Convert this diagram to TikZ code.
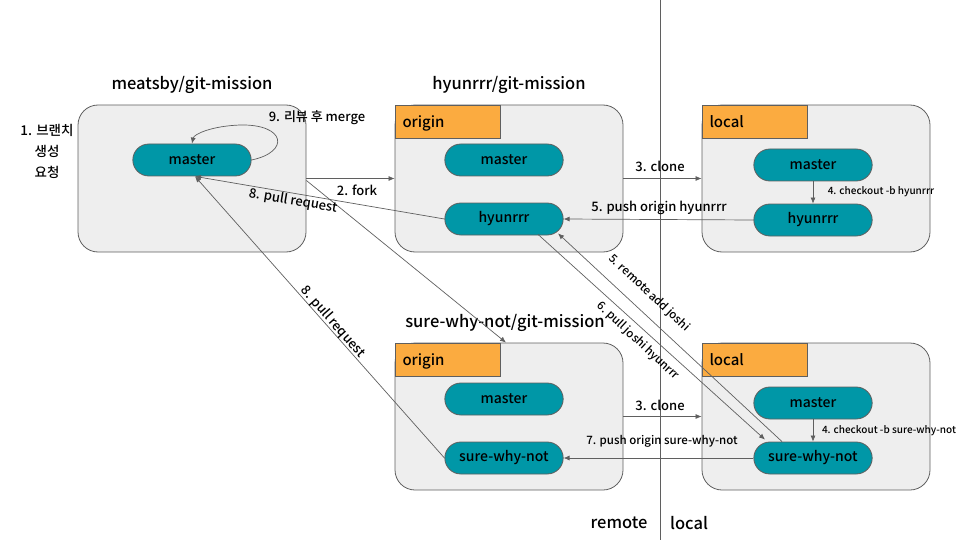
\documentclass[tikz,border=0pt]{standalone}
\usepackage{fontspec}
\setmainfont{Noto Sans CJK KR}[UprightFont=* Medium]
\usetikzlibrary{calc,arrows.meta,shapes.misc}
\definecolor{boxgray}{HTML}{EEEEEE}
\definecolor{linegray}{HTML}{5F5F5F}
\definecolor{tabor}{HTML}{FBAB40}
\definecolor{pillteal}{HTML}{0097A7}
\tikzset{
  repo/.style={draw=linegray,fill=boxgray,line width=0.8pt,rounded corners=20pt,minimum width=228pt,minimum height=147pt},
  tab/.style={draw=linegray,fill=tabor,line width=0.8pt,minimum width=105pt,minimum height=33pt,anchor=north west,font=\fontsize{15}{17}\selectfont,text depth=0pt,align=left,text width=90pt},
  branch/.style={draw=linegray,fill=pillteal,line width=0.8pt,rounded rectangle,minimum width=125pt,minimum height=32pt,font=\fontsize{14}{16}\selectfont},
  title/.style={font=\fontsize{16.5}{18}\selectfont},
  lbl/.style={font=\fontsize{13}{15}\selectfont},
  small/.style={font=\fontsize{10}{12}\selectfont},
  slant/.style={font=\fontsize{11.5}{13}\selectfont},
  stream/.style={draw=linegray,line width=0.7pt,-{Latex[length=6pt,width=5pt]}}
}
\begin{document}
\begin{tikzpicture}[x=1pt,y=-1pt]
      \useasboundingbox (0,0) rectangle (960,540);

      % divider remote / local
      \draw[linegray,line width=0.8pt] (660,0) -- (660,540);
      \node[title] (remote) at (619,523) {remote};
      \node[title] (local) at (689,523) {local};

      % repositories
      \node[repo] (meatsby) at (192,178.5) {};
      \node[repo] (hyorigin) at (509,178.5) {};
      \node[repo] (hylocal) at (816,178.5) {};
      \node[repo] (sworigin) at (509,416.5) {};
      \node[repo] (swlocal) at (816,416.5) {};

      \node[tab] (hyorigintab) at (hyorigin.north west) {origin};
      \node[tab] (hylocaltab) at (hylocal.north west) {local};
      \node[tab] (sworigintab) at (sworigin.north west) {origin};
      \node[tab] (swlocaltab) at (swlocal.north west) {local};

      \node[title] (meatsbyname) at (192,85) {meatsby/git-mission};
      \node[title] (hyname) at (509,85) {hyunrrr/git-mission};
      \node[title] (swname) at (505,323) {sure-why-not/git-mission};
      \node[lbl,align=center,font=\fontsize{13.5}{21}\selectfont] (request) at (47,151) {1. 브랜치\\생성\\요청};

      % branches
      \node[branch] (msmaster) at (192,160) {master};
      \node[branch] (homaster) at (504,160) {master};
      \node[branch] (hohyun) at (504,219) {hyunrrr};
      \node[branch] (hlmaster) at (813,165) {master};
      \node[branch] (hlhyun) at (813,220) {hyunrrr};
      \node[branch] (somaster) at (504,399) {master};
      \node[branch] (soswn) at (504,458) {sure-why-not};
      \node[branch] (slmaster) at (813,403) {master};
      \node[branch] (slswn) at (813,458) {sure-why-not};

      % connectors
      \draw[stream] (msmaster.east) .. controls (290,152) and (286,124) .. (240,125)
        .. controls (212,126) and (194,134) .. (msmaster.north);
      \node[lbl] (merge) at (317,118) {9. 리뷰 후 merge};

      \draw[stream] (meatsby.east) -- (hyorigin.west);
      \node[lbl] (fork) at (357,190) {2. fork};
      \draw[stream] ([yshift=-2pt]meatsby.east) -- ([xshift=-3pt]sworigin.north);

      \draw[stream] (hohyun.west) -- ([xshift=3pt]msmaster.south);
      \node[lbl,rotate=-9.6] (pr1) at (293,201) {8. pull request};
      \draw[stream] (soswn.west) -- ([xshift=3pt]msmaster.south);
      \node[lbl,rotate=-48.7] (pr2) at (333,322) {8. pull request};

      \draw[stream] (hyorigin.east) -- (hylocal.west);
      \node[lbl] (clone1) at (660,166) {3. clone};
      \draw[stream] (hlmaster.south) -- (hlhyun.north);
      \node[small] (checkout1) at (881,192) {4. checkout -b hyunrrr};
      \draw[stream] (hlhyun.west) -- (hohyun.east);
      \node[lbl] (push1) at (659,208) {5. push origin hyunrrr};

      \draw[stream] ([xshift=-31pt]slswn.north) -- ([xshift=54pt,yshift=2pt]hohyun.south);
      \node[slant,rotate=-43] (remoteadd) at (649,293) {5. remote add joshi};
      \draw[stream] ([xshift=34pt,yshift=1pt]hohyun.south) -- ([xshift=-48pt,yshift=2pt]slswn.north);
      \node[slant,rotate=-43] (pulljoshi) at (638,341) {6. pull joshi hyunrrr};

      \draw[stream] (sworigin.east) -- (swlocal.west);
      \node[lbl] (clone2) at (660,405) {3. clone};
      \draw[stream] (slmaster.south) -- (slswn.north);
      \node[small] (checkout2) at (889,431) {4. checkout -b sure-why-not};
      \draw[stream] (slswn.west) -- (soswn.east);
      \node[slant] (push2) at (662,441) {7. push origin sure-why-not};
    \end{tikzpicture}
\end{document}
